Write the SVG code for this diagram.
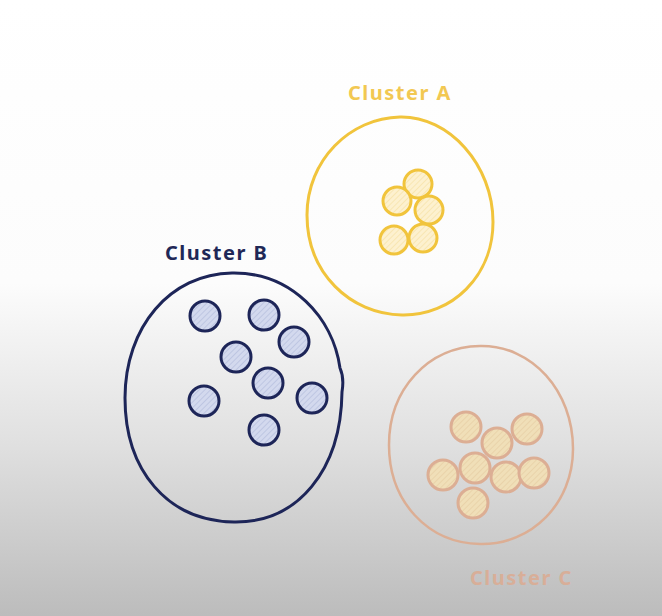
<svg xmlns="http://www.w3.org/2000/svg" width="662" height="616" viewBox="0 0 662 616">
<defs>
<linearGradient id="bg" x1="0" y1="0" x2="0" y2="1">
<stop offset="0" stop-color="#ffffff"/>
<stop offset="0.46" stop-color="#fcfcfc"/>
<stop offset="0.72" stop-color="#e0e0e0"/>
<stop offset="1" stop-color="#bcbcbc"/>
</linearGradient>
<pattern id="hA" width="4" height="4" patternUnits="userSpaceOnUse" patternTransform="rotate(45)">
<rect width="4" height="4" fill="#fdf1cf"/>
<line x1="0" y1="0" x2="0" y2="4" stroke="#f3dc98" stroke-width="1"/>
</pattern>
<pattern id="hB" width="4" height="4" patternUnits="userSpaceOnUse" patternTransform="rotate(45)">
<rect width="4" height="4" fill="#d3d9ee"/>
<line x1="0" y1="0" x2="0" y2="4" stroke="#a9b3d6" stroke-width="1"/>
</pattern>
<pattern id="hC" width="4" height="4" patternUnits="userSpaceOnUse" patternTransform="rotate(45)">
<rect width="4" height="4" fill="#f0dfb8"/>
<line x1="0" y1="0" x2="0" y2="4" stroke="#e2c79c" stroke-width="1"/>
</pattern>
</defs>
<style>
.lbl{font-family:"Noto Sans","DejaVu Sans",sans-serif;font-weight:bold;font-size:20px;letter-spacing:1.5px}
.a{fill:url(#hA);stroke:#f1c43c;stroke-width:3}
.b{fill:url(#hB);stroke:#1d2558;stroke-width:3}
.c{fill:url(#hC);stroke:#dcae94;stroke-width:3}
.big{fill:none}
</style>
<rect width="662" height="616" fill="url(#bg)"/>

<g id="clusterA">
<path class="big" d="M400,117 C449,116 493,165 493,222 C493,276 452,316 402,315 C350,314 307,273 307,215 C307,160 350,118 400,117 Z" stroke="#f1c43c" stroke-width="3"/>
<text class="lbl" x="348" y="100" fill="#f2c852">Cluster A</text>
<circle class="a" cx="418" cy="184" r="14"/>
<circle class="a" cx="397" cy="201" r="14"/>
<circle class="a" cx="429" cy="210" r="14"/>
<circle class="a" cx="394" cy="240" r="14"/>
<circle class="a" cx="423" cy="238" r="14"/>
</g>

<g id="clusterB">
<path class="big" d="M232,273 C292,272 333,318 340,368 C344,377 343,386 342,392 C341,470 298,523 234,522 C167,521 125,470 125,398 C125,327 170,274 232,273 Z" stroke="#1d2558" stroke-width="3"/>
<text class="lbl" x="165" y="260" fill="#1f2857">Cluster B</text>
<circle class="b" cx="205" cy="316" r="15"/>
<circle class="b" cx="264" cy="315" r="15"/>
<circle class="b" cx="294" cy="342" r="15"/>
<circle class="b" cx="236" cy="357" r="15"/>
<circle class="b" cx="268" cy="383" r="15"/>
<circle class="b" cx="204" cy="401" r="15"/>
<circle class="b" cx="312" cy="398" r="15"/>
<circle class="b" cx="264" cy="430" r="15"/>
</g>

<g id="clusterC">
<path class="big" d="M480,346 C532,345 573,391 573,449 C573,503 532,545 480,544 C428,543 389,502 389,445 C389,389 428,347 480,346 Z" stroke="#dcae94" stroke-width="2.5"/>
<text class="lbl" x="470" y="585" fill="#d8ae98">Cluster C</text>
<circle class="c" cx="466" cy="427" r="15"/>
<circle class="c" cx="497" cy="443" r="15"/>
<circle class="c" cx="527" cy="429" r="15"/>
<circle class="c" cx="443" cy="475" r="15"/>
<circle class="c" cx="475" cy="468" r="15"/>
<circle class="c" cx="506" cy="477" r="15"/>
<circle class="c" cx="534" cy="473" r="15"/>
<circle class="c" cx="473" cy="503" r="15"/>
</g>
<g id="connectors"/>
</svg>
